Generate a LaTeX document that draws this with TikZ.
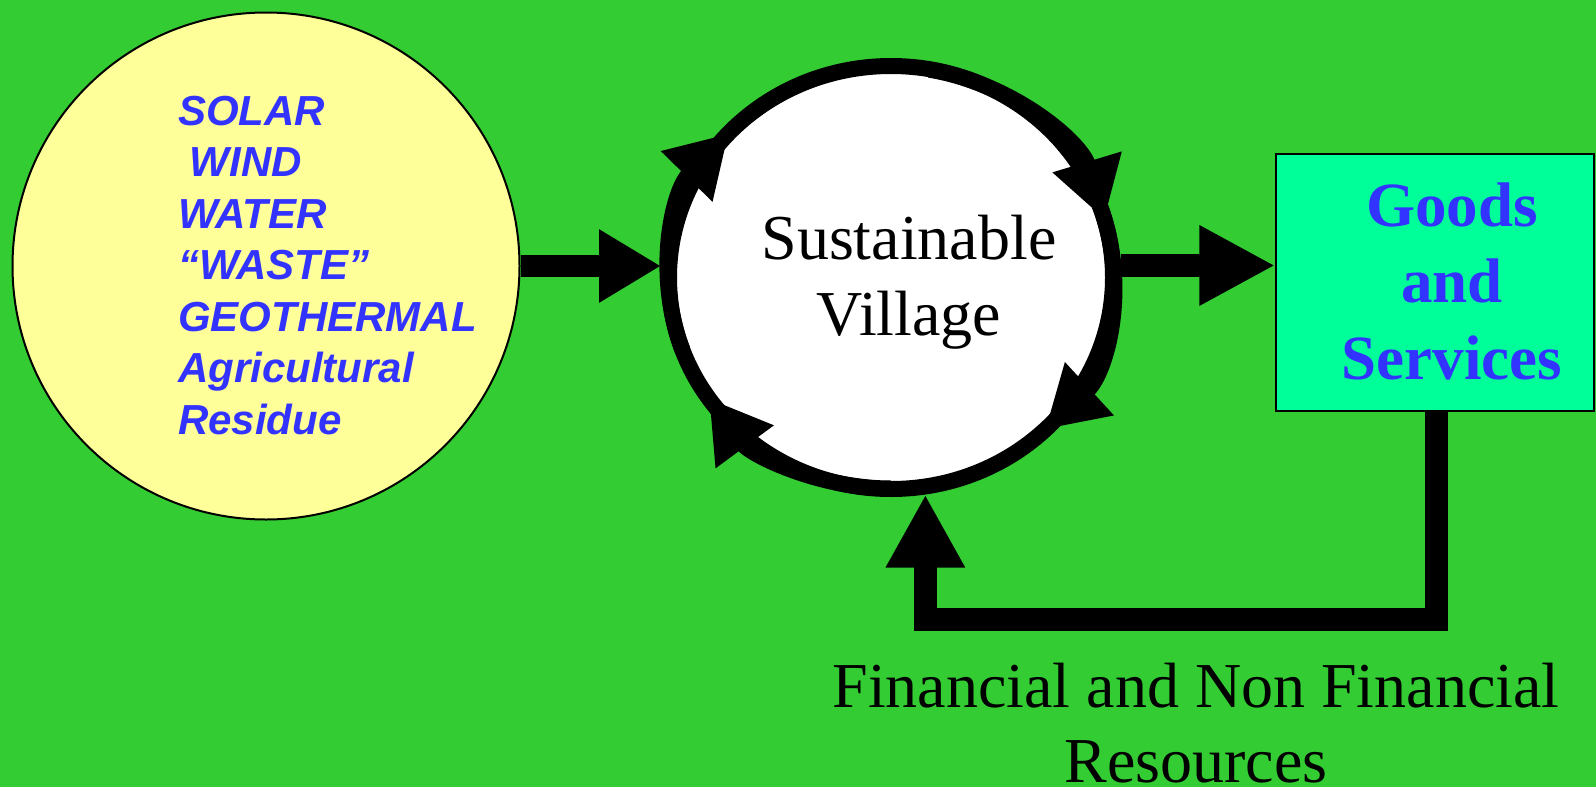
\documentclass[tikz,border=0pt]{standalone}
\usepackage{fontspec}
\setmainfont{Liberation Serif}
\newfontfamily\listfont{Liberation Sans}
\usetikzlibrary{arrows.meta,shapes.geometric,calc}

\definecolor{field}{RGB}{51,204,51}
\definecolor{pale}{RGB}{255,255,153}
\definecolor{mint}{RGB}{0,255,153}
\definecolor{ink}{RGB}{51,51,255}

\tikzset{
  flow/.style={line width=22pt, line join=miter},
  ringtip/.style={line width=16pt, -{Triangle[length=60pt,width=68pt]}},
}

\begin{document}
\begin{tikzpicture}[x=1pt,y=-1pt]
  % canvas
  \fill[field] (0,0) rectangle (1596,787);
  \useasboundingbox (0,0) rectangle (1596,787);

  % energy sources (multi-line nodes sit on the baseline of their last line)
  \node[circle, draw, line width=2pt, fill=pale, minimum size=507pt, inner sep=0pt] (src) at (266,266) {};
  \node[anchor=base west, align=left, inner sep=0pt, text=ink,
        font=\listfont\bfseries\itshape\fontsize{42}{51.5}\selectfont] (srclist) at (178,434)
        {SOLAR\\\hspace*{0.28em}WIND\\WATER\\“WASTE”\\GEOTHERMAL\\Agricultural\\Residue};

  % village ring
  \node[ellipse, draw, line width=16pt, fill=white, minimum width=444pt, minimum height=423pt, inner sep=0pt] (sv) at (891,277.5) {};
  \coordinate (c) at (891,277.5);
  \node[anchor=base, align=center, inner sep=0pt, font=\fontsize{64}{76}\selectfont] (svtext) at (909,335) {Sustainable\\Village};

  % clockwise cycle on the ring
  \draw[ringtip] ($(c)+(-200:222 and 211)$) arc[start angle=-200, end angle=-137, x radius=222, y radius=211];
  \draw[ringtip] ($(c)+(-80:222 and 211)$) arc[start angle=-80, end angle=-16, x radius=222, y radius=211];
  \draw[ringtip] ($(c)+(-20:222 and 211)$) arc[start angle=-20, end angle=46, x radius=222, y radius=211];
  \draw[ringtip] ($(c)+(90:222 and 211)$) arc[start angle=90, end angle=145, x radius=222, y radius=211];

  % goods and services
  \node[rectangle, draw, line width=1.5pt, fill=mint, minimum width=318pt, minimum height=257pt, inner sep=0pt] (gs) at (1435,282.5) {};
  \node[anchor=base, align=center, inner sep=0pt, text=ink, font=\bfseries\fontsize{63}{76.5}\selectfont] (gstext) at (1452,379) {Goods\\and\\Services};

  % resources label
  \node[anchor=base, align=center, inner sep=0pt, font=\fontsize{64}{75}\selectfont] (res) at (1196,782) {Financial and Non Financial\\Resources};

  % connectors
  \draw[flow, -{Triangle[length=62pt,width=69pt]}] (src.east) -- (src.east -| sv.west);
  \draw[flow, line width=23pt, -{Triangle[length=76pt,width=75pt]}] (sv.3) -- (sv.3 -| gs.west);
  \coordinate (fb) at (1436,619);
  \draw[flow, line width=23pt, -{Triangle[length=73pt,width=74pt]}] (gs.south -| fb) -- (fb) -- (fb -| sv.-81) -- (sv.-81);
\end{tikzpicture}
\end{document}
